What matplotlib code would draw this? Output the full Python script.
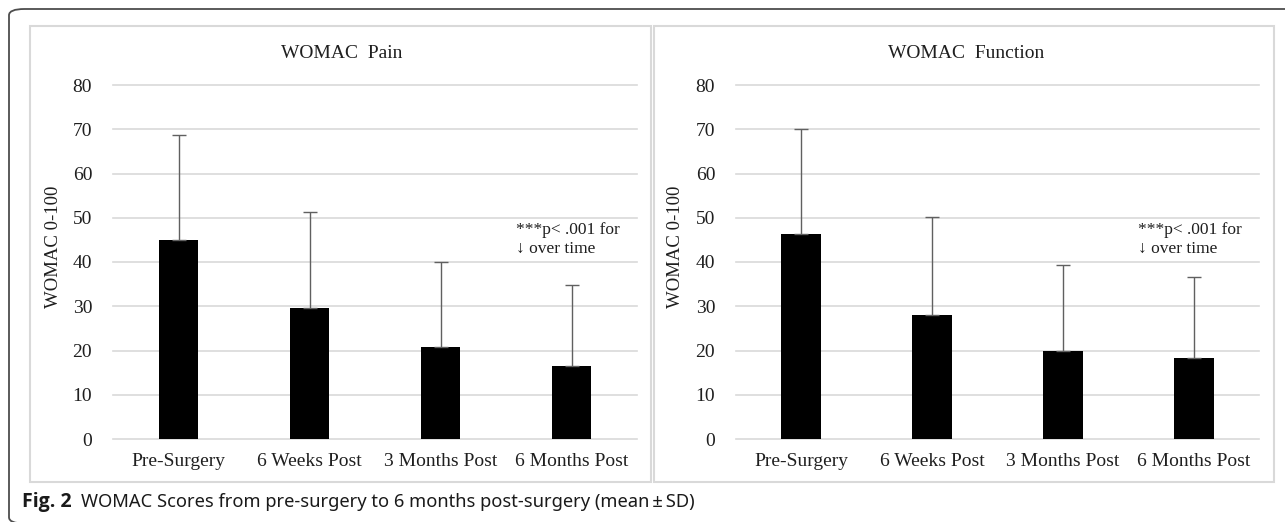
import matplotlib
matplotlib.use("Agg")
import matplotlib.pyplot as plt
from matplotlib.patches import Rectangle, FancyBboxPatch
import numpy as np

categories = ["Pre-Surgery", "6 Weeks Post", "3 Months Post", "6 Months Post"]
pain_mean = [45.0, 29.7, 20.7, 16.6]
pain_upper = [68.6, 51.4, 39.9, 34.8]   # mean + SD (top of error bar)
func_mean = [46.3, 28.1, 19.9, 18.3]
func_upper = [70.0, 50.1, 39.4, 36.5]
yticks = [0, 10, 20, 30, 40, 50, 60, 70, 80]
titles = ["WOMAC  Pain", "WOMAC  Function"]
ylabel = "WOMAC 0-100"
annot = "***p< .001 for\n\u2193 over time"
caption_bold = "Fig. 2"
caption_rest = "WOMAC Scores from pre-surgery to 6 months post-surgery (mean\u2009\u00b1\u2009SD)"

W, H = 1285, 522
fig = plt.figure(figsize=(W / 100, H / 100), dpi=100)
fig.patch.set_facecolor("white")

def fx(px):
    return px / W

def fy(py):
    return 1 - py / H

serif = ["Liberation Serif", "DejaVu Serif"]

# outer rounded border (top and left visible; bottom edge runs off the image)
outer = FancyBboxPatch((fx(9), fy(523.5)), fx(1400), fy(9) - fy(523.5),
                       boxstyle="round,pad=0,rounding_size=0.012",
                       transform=fig.transFigure, fill=False,
                       edgecolor="#4d4d4d", linewidth=1.3, clip_on=False)
fig.patches.append(outer)

# panel frames
for (x0, x1) in [(30, 651), (654, 1274)]:
    fig.patches.append(Rectangle((fx(x0), fy(482)), fx(x1) - fx(x0), fy(26) - fy(482),
                                 transform=fig.transFigure, fill=False,
                                 edgecolor="#d9d9d9", linewidth=1.5))

panels = [
    dict(left=113, right=637, mean=pain_mean, upper=pain_upper, title=titles[0],
         title_x=342, ylab_x=54, ann_x=516),
    dict(left=736, right=1259, mean=func_mean, upper=func_upper, title=titles[1],
         title_x=966, ylab_x=675, ann_x=1138),
]

top_px, bot_px = 85, 439
for p in panels:
    ax = fig.add_axes([fx(p["left"]), fy(bot_px), fx(p["right"]) - fx(p["left"]),
                       fy(top_px) - fy(bot_px)])
    x = np.arange(len(categories))
    mean = np.array(p["mean"])
    err = np.array(p["upper"]) - mean
    ax.bar(x, mean, width=0.305, color="black", zorder=3)
    ax.errorbar(x, mean, yerr=[np.zeros_like(err), err], fmt="none",
                ecolor="#606060", elinewidth=1.0, capsize=5, capthick=1.0, zorder=4)
    ax.set_xlim(-0.5, 3.5)
    ax.set_ylim(0, 80)
    ax.set_yticks(yticks)
    ax.set_xticks(x)
    ax.set_xticklabels(categories, fontfamily=serif, fontsize=14, color="#1f1f1f")
    ax.set_yticklabels([str(t) for t in yticks], fontfamily=serif, fontsize=14, color="#1f1f1f")
    ax.tick_params(axis="both", length=0)
    ax.tick_params(axis="y", pad=15)
    ax.tick_params(axis="x", pad=10)
    for s in ax.spines.values():
        s.set_visible(False)
    ax.yaxis.grid(True, color="#d9d9d9", linewidth=1.2, zorder=0)
    ax.set_axisbelow(True)
    ax.patch.set_alpha(0)
    for gl in ax.get_ygridlines():
        gl.set_clip_on(False)
    fig.text(fx(p["title_x"]), fy(53), p["title"], ha="center", va="center",
             fontfamily=serif, fontsize=14, color="#1f1f1f")
    fig.text(fx(p["ylab_x"]), fy(247), ylabel, ha="center", va="center",
             rotation=90, fontfamily=serif, fontsize=13.5, color="#1f1f1f")
    fig.text(fx(p["ann_x"]), fy(239), annot, ha="left", va="center",
             fontfamily=serif, fontsize=12.5, color="#1f1f1f", linespacing=1.25)

# caption
t1 = fig.text(fx(22), fy(502), caption_bold, ha="left", va="center",
              fontfamily=["Open Sans", "DejaVu Sans"], fontweight="bold",
              fontsize=14, color="#1a1a1a")
fig.canvas.draw()
bb = t1.get_window_extent()
fig.text(fx(bb.x1 + 9), fy(502), caption_rest, ha="left", va="center",
         fontfamily=["Noto Sans", "DejaVu Sans"], fontsize=13.2, color="#1a1a1a")

fig.savefig("out.png", dpi=100, facecolor="white")
